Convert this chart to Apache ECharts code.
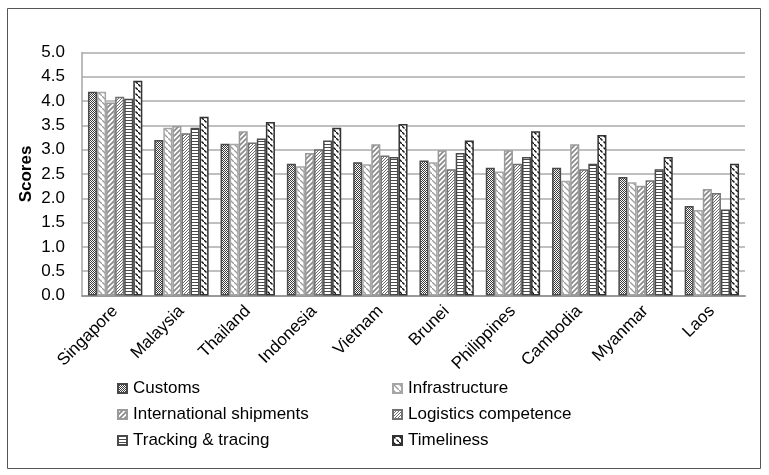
<!DOCTYPE html>
<html>
<head>
<meta charset="utf-8">
<script src="https://cdn.jsdelivr.net/npm/echarts@6/dist/echarts.min.js"></script>
<style>
  html, body { margin: 0; padding: 0; background: #fff; }
  #chart { width: 769px; height: 475px; }
</style>
</head>
<body>
<div id="chart"></div>
<script>
// LPI component scores by country
const countries = ['Singapore', 'Malaysia', 'Thailand', 'Indonesia', 'Vietnam', 'Brunei', 'Philippines', 'Cambodia', 'Myanmar', 'Laos'];
const yTicks = ['0.0', '0.5', '1.0', '1.5', '2.0', '2.5', '3.0', '3.5', '4.0', '4.5', '5.0'];

const customs        = [4.19, 3.20, 3.12, 2.71, 2.74, 2.78, 2.63, 2.63, 2.44, 1.84];
const infrastructure = [4.19, 3.45, 3.12, 2.66, 2.70, 2.74, 2.55, 2.36, 2.33, 1.76];
const intlShipments  = [3.97, 3.49, 3.38, 2.93, 3.11, 2.99, 2.99, 3.11, 2.26, 2.19];
const logistics      = [4.09, 3.34, 3.15, 3.01, 2.88, 2.60, 2.71, 2.60, 2.37, 2.11];
const tracking       = [4.05, 3.45, 3.23, 3.19, 2.85, 2.93, 2.85, 2.71, 2.60, 1.77];
const timeliness     = [4.42, 3.68, 3.57, 3.45, 3.53, 3.19, 3.38, 3.30, 2.85, 2.71];

// small tiled canvases used as hatch fills
function tile(w, h, draw) {
  const c = document.createElement('canvas');
  c.width = w; c.height = h;
  const g = c.getContext('2d');
  g.fillStyle = '#fff';
  g.fillRect(0, 0, w, h);
  draw(g);
  return { image: c, repeat: 'repeat' };
}
const checkerDark = tile(2, 2, g => { g.fillStyle = '#3a3a3a'; g.fillRect(0, 0, 1, 1); g.fillRect(1, 1, 1, 1); });
const backslashLight = tile(6, 6, g => {
  g.strokeStyle = '#9a9a9a'; g.lineWidth = 1.3;
  g.beginPath(); g.moveTo(0, 0); g.lineTo(3, 3); g.moveTo(3, 3); g.lineTo(6, 6); g.stroke();
});
const slashGray = tile(5, 5, g => {
  g.strokeStyle = '#8c8c8c'; g.lineWidth = 1.8;
  g.beginPath(); g.moveTo(-1, 6); g.lineTo(6, -1); g.moveTo(-1, 1); g.lineTo(1, -1); g.moveTo(4, 6); g.lineTo(6, 4); g.stroke();
});
const dotGrid = tile(3, 3, g => { g.fillStyle = '#6a6a6a'; g.fillRect(0, 0, 1, 1); g.fillRect(2, 1, 1, 1); g.fillRect(1, 2, 1, 1); });
const horizLines = tile(3, 3, g => { g.fillStyle = '#4a4a4a'; g.fillRect(0, 0, 3, 1); });
const backslashDark = tile(6, 6, g => {
  g.strokeStyle = '#111'; g.lineWidth = 1.4;
  g.beginPath(); g.moveTo(0, 0); g.lineTo(2.5, 2.5); g.moveTo(3.5, 3.5); g.lineTo(6, 6); g.stroke();
});

const seriesDefs = [
  { name: 'Customs', data: customs, fill: checkerDark, border: '#4a4a4a' },
  { name: 'Infrastructure', data: infrastructure, fill: backslashLight, border: '#a6a6a6' },
  { name: 'International shipments', data: intlShipments, fill: slashGray, border: '#9a9a9a' },
  { name: 'Logistics competence', data: logistics, fill: dotGrid, border: '#707070' },
  { name: 'Tracking & tracing', data: tracking, fill: horizLines, border: '#4a4a4a' },
  { name: 'Timeliness', data: timeliness, fill: backslashDark, border: '#333' }
];

const font = 'Liberation Sans, Arial, sans-serif';
const chart = echarts.init(document.getElementById('chart'), null, { renderer: 'canvas' });

const legendBase = {
  orient: 'vertical',
  top: 375,
  itemWidth: 9,
  itemHeight: 9,
  itemGap: 9,
  icon: 'rect',
  textStyle: { fontFamily: font, fontSize: 17, color: '#000', padding: [0, 0, 0, 1] },
  selectedMode: false
};

chart.setOption({
  animation: false,
  graphic: [{
    type: 'rect',
    shape: { x: 7.5, y: 8.5, width: 753, height: 460 },
    style: { fill: 'none', stroke: '#555', lineWidth: 1 }
  }],
  legend: [
    Object.assign({}, legendBase, { left: 112, data: ['Customs', 'International shipments', 'Tracking & tracing'] }),
    Object.assign({}, legendBase, { left: 387, data: ['Infrastructure', 'Logistics competence', 'Timeliness'] })
  ],
  grid: { left: 82, right: 24, top: 52.5, bottom: 179.5, containLabel: false },
  xAxis: {
    type: 'category',
    data: countries,
    axisLine: { lineStyle: { color: '#999', width: 2 } },
    axisTick: { show: false },
    axisLabel: { rotate: 45, interval: 0, fontFamily: font, fontSize: 17, color: '#000', margin: 13 }
  },
  yAxis: {
    type: 'value',
    min: 0, max: 5, interval: 0.5,
    name: 'Scores',
    nameLocation: 'middle',
    nameGap: 47,
    nameMoveOverlap: false,
    nameTextStyle: { fontFamily: font, fontSize: 17, fontWeight: 'bold', color: '#000' },
    axisLine: { show: true, lineStyle: { color: '#a6a6a6', width: 1.5 } },
    axisTick: { show: false },
    splitLine: { lineStyle: { color: '#ababab', width: 1.5 } },
    axisLabel: {
      fontFamily: font, fontSize: 17, color: '#000', margin: 17,
      formatter: v => yTicks[Math.round(v / 0.5)]
    }
  },
  series: seriesDefs.map(s => ({
    type: 'bar',
    name: s.name,
    data: s.data,
    barGap: '0%',
    barCategoryGap: '18%',
    itemStyle: { color: s.fill, borderColor: s.border, borderWidth: 1.5 }
  }))
});
</script>
</body>
</html>
